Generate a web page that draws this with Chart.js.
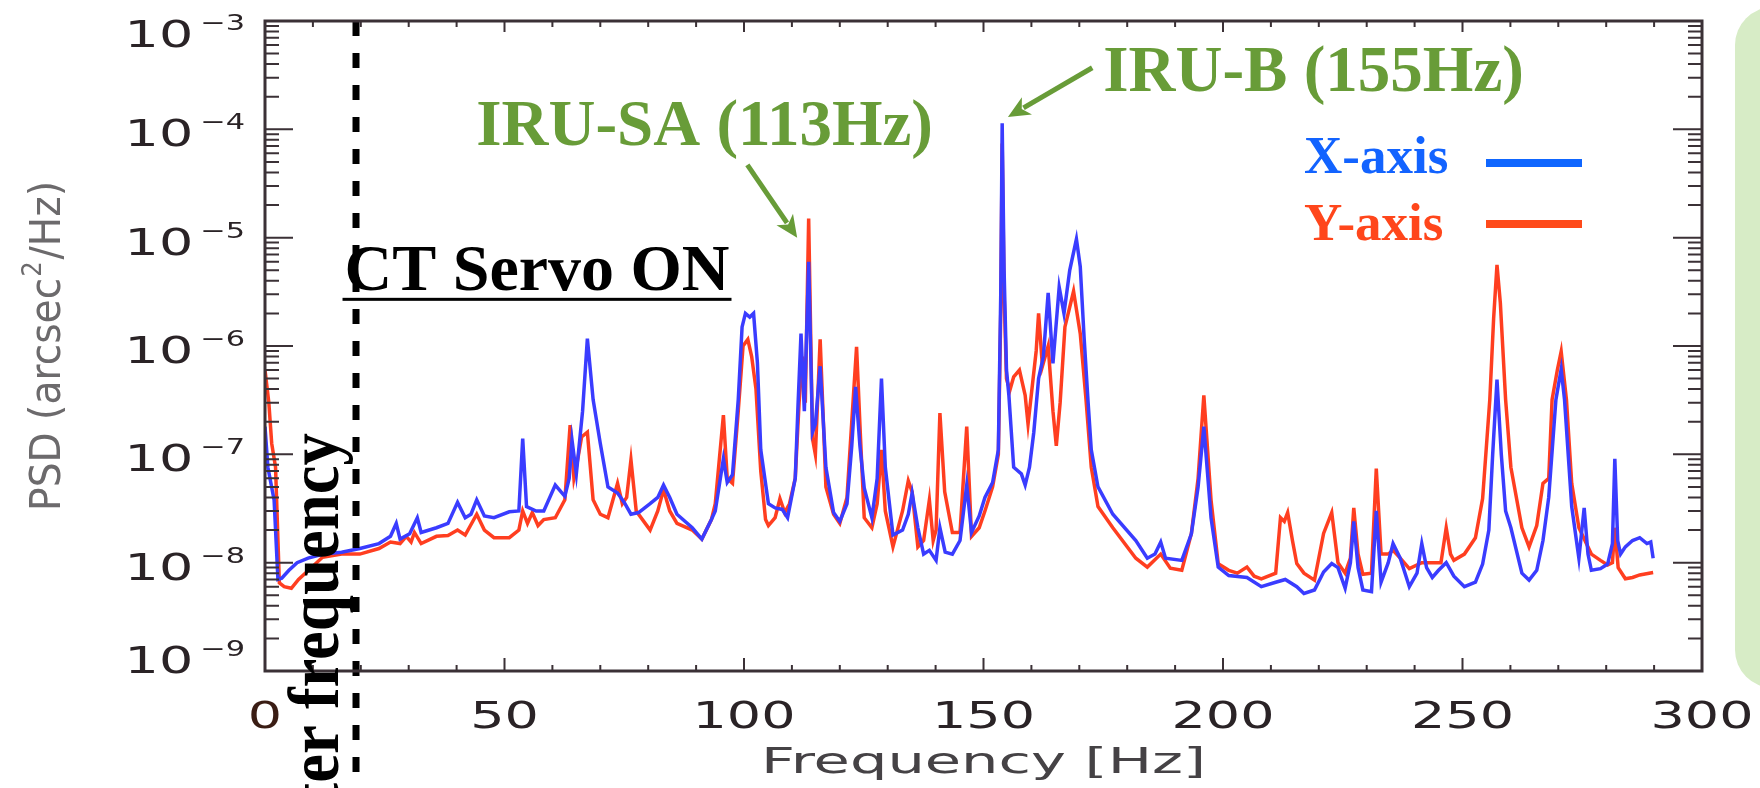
<!DOCTYPE html>
<html>
<head>
<meta charset="utf-8">
<script src="https://cdn.jsdelivr.net/npm/chart.js@4.4.1/dist/chart.umd.min.js"></script>
<style>
  html, body { margin: 0; padding: 0; background: #fff; }
  #wrap { width: 1760px; height: 788px; position: relative; overflow: hidden; }
</style>
</head>
<body>
<div id="wrap"><canvas id="psd" width="1760" height="788"></canvas></div>
<script>
// ---- data (Hz, arcsec^2/Hz) ----
const xAxisHz = [
  0, 0.6, 1.9, 2.7, 3.5, 5.0, 6.7, 9.0, 12.2, 16.0,
  19.8, 23.8, 26.2, 27.4, 28.2, 30.2, 31.8, 32.6, 35.8, 38.2,
  40.2, 41.8, 43.0, 44.2, 45.8, 47.8, 51.0, 53.0, 53.8, 54.6,
  56.6, 58.2, 60.6, 62.6, 63.5, 64.1, 65.0, 66.3, 67.3, 68.5,
  70.0, 71.6, 73.6, 75.0, 76.4, 78.0, 80.4, 82.0, 83.2, 84.5,
  86.0, 89.2, 91.2, 93.2, 94.0, 95.7, 96.5, 97.6, 98.8, 99.6,
  100.3, 101.2, 102.0, 102.8, 103.5, 105.1, 106.5, 108.0, 109.1, 110.7,
  111.3, 111.9, 112.6, 113.5, 114.3, 114.9, 115.9, 117.1, 118.7, 120.0,
  121.5, 122.5, 123.3, 124.2, 125.1, 126.7, 127.8, 128.7, 129.5, 131.1,
  133.1, 134.3, 135.1, 136.3, 137.5, 138.7, 140.1, 140.9, 142.0, 143.5,
  145.1, 146.5, 147.5, 149.1, 150.3, 151.9, 153.1, 153.6, 153.9, 154.3,
  154.8, 155.3, 156.3, 157.9, 158.7, 159.6, 160.5, 161.5, 162.5, 163.5,
  164.5, 165.8, 166.8, 168.0, 169.4, 170.2, 171.0, 171.8, 172.5, 173.9,
  177.0, 181.8, 184.2, 185.8, 187.0, 188.0, 191.4, 193.4, 194.8, 196.0,
  197.5, 199.0, 201.2, 205.0, 208.0, 211.0, 213.0, 215.4, 216.9, 219.1,
  221.0, 222.7, 224.0, 225.5, 226.6, 227.3, 228.2, 229.2, 231.0, 232.0,
  233.0, 234.5, 235.5, 237.0, 238.9, 240.5, 241.5, 242.5, 243.7, 245.0,
  246.6, 248.2, 250.4, 252.7, 254.2, 255.5, 256.3, 257.2, 258.1, 259.0,
  260.1, 262.4, 263.9, 265.5, 266.8, 268.0, 269.5, 270.6, 271.3, 272.8,
  274.3, 275.4, 276.2, 276.9, 278.8, 280.3, 281.3, 281.8, 282.4, 283.0,
  284.0, 285.5, 287.0, 288.5, 289.3, 289.8
];
const xAxisPsd = [
  1.8e-7, 7.6e-8, 3.8e-8, 7.0e-9, 7.2e-9, 8.5e-9, 1.0e-8, 1.1e-8, 1.2e-8, 1.25e-8,
  1.35e-8, 1.5e-8, 1.75e-8, 2.3e-8, 1.65e-8, 1.85e-8, 2.6e-8, 1.9e-8, 2.1e-8, 2.3e-8,
  3.6e-8, 2.6e-8, 2.8e-8, 3.8e-8, 2.7e-8, 2.6e-8, 2.95e-8, 3.0e-8, 1.4e-7, 3.3e-8,
  3.0e-8, 3.0e-8, 5.2e-8, 4.1e-8, 6.0e-8, 1.35e-7, 6.6e-8, 2.5e-7, 1.17e-6, 3.2e-7,
  1.26e-7, 5.0e-8, 4.4e-8, 3.6e-8, 2.8e-8, 2.9e-8, 3.5e-8, 4.0e-8, 5.2e-8, 4.0e-8,
  2.8e-8, 2.1e-8, 1.65e-8, 2.5e-8, 3.0e-8, 9.1e-8, 5.5e-8, 6.5e-8, 3.2e-7, 1.5e-6,
  2.0e-6, 1.85e-6, 2.0e-6, 7.0e-7, 1.1e-7, 3.5e-8, 3.2e-8, 3.1e-8, 2.6e-8, 6.0e-8,
  3.0e-7, 1.3e-6, 2.5e-7, 6.0e-6, 1.6e-7, 1.9e-7, 6.5e-7, 7.6e-8, 2.9e-8, 2.4e-8,
  3.5e-8, 1.2e-7, 4.2e-7, 1.2e-7, 4.9e-8, 2.6e-8, 6.0e-8, 5.0e-7, 7.6e-8, 1.8e-8,
  2.0e-8, 2.8e-8, 4.4e-8, 2.1e-8, 1.2e-8, 1.3e-8, 1.05e-8, 2.1e-8, 1.25e-8, 1.2e-8,
  1.6e-8, 5.2e-8, 1.9e-8, 2.7e-8, 4.0e-8, 5.5e-8, 1.1e-7, 3.0e-6, 1.14e-4, 5.0e-6,
  6.0e-7, 3.5e-7, 7.6e-8, 6.6e-8, 5.2e-8, 7.6e-8, 1.6e-7, 5.0e-7, 8.0e-7, 3.1e-6,
  6.9e-7, 3.5e-6, 2.0e-6, 5.0e-6, 9.7e-6, 5.4e-6, 1.2e-6, 3.2e-7, 1.1e-7, 5.0e-8,
  2.8e-8, 1.6e-8, 1.1e-8, 1.2e-8, 1.55e-8, 1.1e-8, 1.05e-8, 1.85e-8, 5.0e-8, 1.8e-7,
  2.6e-8, 9.1e-9, 7.6e-9, 7.3e-9, 6.0e-9, 6.6e-9, 7.0e-9, 6.0e-9, 5.2e-9, 5.6e-9,
  8.2e-9, 9.8e-9, 9.0e-9, 5.8e-9, 1.0e-8, 2.4e-8, 9.0e-9, 5.6e-9, 5.4e-9, 3.0e-8,
  6.6e-9, 1.0e-8, 1.5e-8, 1.1e-8, 6.0e-9, 8.0e-9, 1.5e-8, 9.0e-9, 7.3e-9, 8.5e-9,
  1.0e-8, 7.5e-9, 6.0e-9, 6.6e-9, 9.7e-9, 2.0e-8, 1.0e-7, 4.9e-7, 1.0e-7, 3.0e-8,
  2.1e-8, 8.0e-9, 6.9e-9, 8.5e-9, 1.6e-8, 4.0e-8, 3.2e-7, 6.1e-7, 3.2e-7, 3.3e-8,
  1.1e-8, 3.2e-8, 1.2e-8, 8.5e-9, 8.8e-9, 9.7e-9, 1.5e-8, 9.1e-8, 1.6e-8, 1.2e-8,
  1.4e-8, 1.6e-8, 1.7e-8, 1.5e-8, 1.55e-8, 1.1e-8
];
const yAxisHz = [
  0, 0.8, 1.4, 2.2, 3.0, 4.0, 5.5, 7.0, 8.8, 12.0,
  16.0, 19.8, 23.8, 26.2, 28.2, 29.5, 30.5, 31.2, 32.6, 35.8,
  38.2, 40.2, 41.8, 44.2, 45.8, 47.8, 51.0, 53.0, 53.8, 54.8,
  55.8, 57.0, 58.2, 60.6, 62.6, 63.7, 64.5, 65.0, 66.1, 67.3,
  68.5, 70.0, 71.6, 73.6, 74.6, 75.5, 76.4, 77.5, 80.4, 82.0,
  83.2, 84.5, 86.0, 89.2, 91.2, 93.2, 94.0, 95.7, 96.5, 97.6,
  98.8, 99.8, 100.8, 101.6, 102.5, 103.5, 104.5, 105.1, 106.5, 107.5,
  108.5, 109.5, 110.7, 111.5, 112.2, 112.8, 113.5, 114.3, 114.9, 115.9,
  117.1, 118.7, 120.0, 121.5, 122.5, 123.5, 124.3, 125.1, 126.7, 127.8,
  128.7, 129.5, 131.1, 133.1, 134.3, 135.1, 136.3, 137.5, 138.7, 139.5,
  140.1, 140.9, 141.9, 143.5, 145.1, 146.5, 147.5, 149.1, 150.3, 151.9,
  153.1, 153.6, 153.9, 154.3, 154.8, 155.5, 156.3, 157.5, 158.7, 159.3,
  160.0, 161.0, 161.5, 162.3, 163.5, 164.5, 165.2, 166.0, 167.0, 168.8,
  170.2, 171.4, 172.5, 173.9, 177.0, 181.8, 184.2, 187.0, 189.0, 191.4,
  193.4, 194.8, 196.0, 197.5, 199.0, 201.2, 203.0, 205.0, 206.5, 208.0,
  211.0, 212.0, 212.8, 213.5, 214.5, 215.4, 216.9, 219.1, 221.0, 222.7,
  224.0, 225.5, 226.6, 227.3, 228.2, 229.2, 231.0, 232.0, 233.0, 234.5,
  235.5, 237.0, 238.9, 241.5, 243.7, 245.5, 246.6, 247.5, 248.2, 250.4,
  252.7, 254.2, 255.7, 256.5, 257.2, 257.9, 259.0, 260.1, 262.4, 263.9,
  265.5, 266.8, 268.0, 268.7, 269.8, 270.6, 271.7, 272.8, 274.3, 276.9,
  278.8, 280.3, 281.3, 281.8, 282.5, 284.0, 285.5, 287.0, 289.8
];
const yAxisPsd = [
  6.0e-7, 3.0e-7, 1.26e-7, 7.6e-8, 6.5e-9, 6.0e-9, 5.8e-9, 7.0e-9, 8.3e-9, 1.12e-8,
  1.2e-8, 1.2e-8, 1.35e-8, 1.55e-8, 1.5e-8, 1.75e-8, 1.55e-8, 1.9e-8, 1.5e-8, 1.75e-8,
  1.78e-8, 2.0e-8, 1.8e-8, 2.8e-8, 2.0e-8, 1.7e-8, 1.7e-8, 2.0e-8, 3.0e-8, 2.3e-8,
  2.9e-8, 2.2e-8, 2.5e-8, 2.6e-8, 3.8e-8, 1.86e-7, 6.0e-8, 7.6e-8, 1.45e-7, 1.6e-7,
  3.8e-8, 2.8e-8, 2.6e-8, 5.4e-8, 3.5e-8, 4.0e-8, 8.9e-8, 3.0e-8, 2.0e-8, 3.0e-8,
  4.7e-8, 3.0e-8, 2.3e-8, 2.0e-8, 1.65e-8, 2.5e-8, 3.5e-8, 2.3e-7, 6.0e-8, 5.4e-8,
  2.5e-7, 1.0e-6, 1.15e-6, 8.0e-7, 4.0e-7, 7.0e-8, 2.5e-8, 2.2e-8, 2.6e-8, 3.9e-8,
  2.9e-8, 3.5e-8, 6.0e-8, 3.0e-7, 8.0e-7, 3.0e-7, 1.5e-5, 1.4e-7, 1.0e-7, 1.15e-6,
  5.0e-8, 2.8e-8, 2.3e-8, 4.0e-8, 2.0e-7, 9.8e-7, 1.5e-7, 2.6e-8, 2.1e-8, 3.5e-8,
  1.1e-7, 3.0e-8, 1.4e-8, 3.0e-8, 5.7e-8, 4.5e-8, 1.4e-8, 1.6e-8, 3.8e-8, 1.6e-8,
  2.0e-8, 2.4e-7, 4.5e-8, 1.9e-8, 1.9e-8, 1.8e-7, 1.75e-8, 2.1e-8, 3.0e-8, 5.0e-8,
  1.0e-7, 2.0e-6, 7.4e-5, 3.0e-6, 5.0e-7, 3.9e-7, 5.2e-7, 6.0e-7, 3.5e-7, 1.9e-7,
  3.6e-7, 9.0e-7, 2.0e-6, 6.5e-7, 1.0e-6, 2.5e-7, 1.2e-7, 3.0e-7, 1.5e-6, 3.2e-6,
  1.3e-6, 3.2e-7, 7.6e-8, 3.3e-8, 2.1e-8, 1.1e-8, 9.1e-9, 1.2e-8, 8.9e-9, 8.5e-9,
  1.86e-8, 6.0e-8, 3.5e-7, 3.8e-8, 9.8e-9, 8.5e-9, 8.0e-9, 9.1e-9, 7.5e-9, 7.1e-9,
  8.0e-9, 2.6e-8, 2.4e-8, 2.9e-8, 1.6e-8, 9.8e-9, 8.0e-9, 6.9e-9, 1.86e-8, 2.9e-8,
  1.0e-8, 8.0e-9, 1.1e-8, 3.2e-8, 1.2e-8, 7.8e-9, 8.0e-9, 7.4e-8, 1.2e-8, 1.2e-8,
  1.3e-8, 1.1e-8, 8.8e-9, 1.0e-8, 1.0e-8, 1.0e-8, 2.1e-8, 1.2e-8, 1.05e-8, 1.2e-8,
  1.7e-8, 3.9e-8, 3.2e-7, 1.8e-6, 5.6e-6, 2.5e-6, 3.2e-7, 7.6e-8, 2.1e-8, 1.4e-8,
  2.2e-8, 5.4e-8, 6.0e-8, 3.2e-7, 6.0e-7, 8.9e-7, 3.2e-7, 5.4e-8, 2.1e-8, 1.2e-8,
  1.05e-8, 9.5e-9, 1.0e-8, 2.1e-8, 9.0e-9, 7.1e-9, 7.3e-9, 7.7e-9, 8.1e-9
];

const xTicks = [0, 50, 100, 150, 200, 250, 300];
const yDecades = [-9, -8, -7, -6, -5, -4, -3];
const filterHz = 19;

// annotations, placed in data units
const notes = {
  servo: { hz: 16.6, psd: 3.3e-6, text: 'CT Servo ON' },
  filter: { hz: 15.3, psd: 1.57e-7, text: 'Filter frequency' },
  sa: { hz: 44.1, psd: 7.2e-5, text: 'IRU-SA (113Hz)', from: [100.7, 4.7e-5], to: [111.1, 1.0e-5] },
  b: { hz: 175.0, psd: 2.26e-4, text: 'IRU-B (155Hz)', from: [172.7, 3.7e-4], to: [155.1, 1.3e-4] }
};

const toPoints = (hz, v) => hz.map((f, i) => ({ x: f, y: v[i] }));

const AXIS = '#3b3136';
const GREEN = '#689c38';
const SERIF = '"Liberation Serif", "DejaVu Serif", serif';
const SANS = '"DejaVu Sans", sans-serif';

function wideText(ctx, s, x, y, font, color, align, hs) {
  ctx.save();
  ctx.font = font;
  ctx.fillStyle = color;
  ctx.textAlign = 'left';
  const w = ctx.measureText(s).width * hs;
  const x0 = align === 'center' ? x - w / 2 : align === 'right' ? x - w : x;
  ctx.translate(x0, y);
  ctx.scale(hs, 1);
  ctx.fillText(s, 0, 0);
  ctx.restore();
  return w;
}

function arrow(ctx, x1, y1, x2, y2) {
  const a = Math.atan2(y2 - y1, x2 - x1);
  const len = 22, hw = 10;
  ctx.save();
  ctx.strokeStyle = GREEN;
  ctx.fillStyle = GREEN;
  ctx.lineWidth = 5;
  ctx.beginPath();
  ctx.moveTo(x1, y1);
  ctx.lineTo(x2 - Math.cos(a) * (len - 4), y2 - Math.sin(a) * (len - 4));
  ctx.stroke();
  ctx.beginPath();
  ctx.moveTo(x2, y2);
  ctx.lineTo(x2 - Math.cos(a) * len + Math.sin(a) * hw, y2 - Math.sin(a) * len - Math.cos(a) * hw);
  ctx.lineTo(x2 - Math.cos(a) * (len - 6), y2 - Math.sin(a) * (len - 6));
  ctx.lineTo(x2 - Math.cos(a) * len - Math.sin(a) * hw, y2 - Math.sin(a) * len + Math.cos(a) * hw);
  ctx.closePath();
  ctx.fill();
  ctx.restore();
}

const decor = {
  id: 'decor',
  beforeDraw(chart) {
    const ctx = chart.ctx;
    // light green panel at the right edge
    ctx.save();
    ctx.fillStyle = '#d7ecc6';
    ctx.beginPath();
    ctx.roundRect(1735, 7, 200, 681, 38);
    ctx.fill();
    ctx.restore();
  },
  afterDatasetsDraw(chart) {
    const ctx = chart.ctx;
    const xs = chart.scales.x, ys = chart.scales.y;
    const a = chart.chartArea;
    const px = f => xs.getPixelForValue(f);
    const py = v => ys.getPixelForValue(v);

    // filter frequency dashed line
    ctx.save();
    ctx.strokeStyle = '#000';
    ctx.lineWidth = 7;
    ctx.setLineDash([15, 17]);
    ctx.beginPath();
    ctx.moveTo(px(filterHz), a.top);
    ctx.lineTo(px(filterHz), chart.height);
    ctx.stroke();
    ctx.restore();

    // frame
    ctx.save();
    ctx.strokeStyle = AXIS;
    ctx.lineWidth = 3;
    ctx.strokeRect(a.left, a.top, a.right - a.left, a.bottom - a.top);

    // ticks (inward, on all four sides)
    ctx.lineWidth = 2;
    ctx.beginPath();
    for (let f = 0; f <= 300; f += 10) {
      const major = f % 50 === 0;
      const x = px(f);
      ctx.moveTo(x, a.bottom); ctx.lineTo(x, a.bottom - (major ? 13 : 6));
      ctx.moveTo(x, a.top); ctx.lineTo(x, a.top + (major ? 11 : 6));
    }
    yDecades.forEach(k => {
      const y = py(Math.pow(10, k));
      ctx.moveTo(a.left, y); ctx.lineTo(a.left + 28, y);
      ctx.moveTo(a.right, y); ctx.lineTo(a.right - 29, y);
      if (k < -3) {
        for (let m = 2; m <= 9; m++) {
          const ym = py(m * Math.pow(10, k));
          ctx.moveTo(a.left, ym); ctx.lineTo(a.left + 14, ym);
          ctx.moveTo(a.right, ym); ctx.lineTo(a.right - 14, ym);
        }
      }
    });
    ctx.stroke();
    ctx.restore();

    // x tick labels
    xTicks.forEach(f => {
      wideText(ctx, String(f), px(f), a.bottom + 57, '38px ' + SANS, f === 0 ? '#3a1d14' : '#2a2326', 'center', 1.42);
    });

    // y tick labels 10^k
    yDecades.forEach(k => {
      const yt = py(Math.pow(10, k));
      const base = Math.min(Math.max(yt + 17, a.top + 26), a.bottom + 2);
      const ew = wideText(ctx, '\u2212' + Math.abs(k), a.left - 20, base - 17, '22px ' + SANS, '#2a2326', 'right', 1.38);
      wideText(ctx, '10', a.left - 20 - ew - 7, base, '38px ' + SANS, '#2a2326', 'right', 1.42);
    });

    // axis titles
    ctx.save();
    ctx.font = '36px ' + SANS;
    const fw = ctx.measureText('Frequency [Hz]').width;
    ctx.restore();
    wideText(ctx, 'Frequency [Hz]', (a.left + a.right) / 2, 773, '36px ' + SANS, '#454245', 'center', 445 / fw);

    ctx.save();
    ctx.translate(60, (a.top + a.bottom) / 2);
    ctx.rotate(-Math.PI / 2);
    ctx.fillStyle = '#6c6a6c';
    ctx.font = '42px ' + SANS;
    const p1 = 'PSD (arcsec', p3 = '/Hz)';
    const w1 = ctx.measureText(p1).width, w3 = ctx.measureText(p3).width;
    ctx.font = '26px ' + SANS;
    const w2 = ctx.measureText('2').width + 3;
    const tot = w1 + w2 + w3;
    ctx.scale(330 / tot, 1);
    let cx = -tot / 2;
    ctx.font = '42px ' + SANS;
    ctx.fillText(p1, cx, 0); cx += w1;
    ctx.font = '26px ' + SANS;
    ctx.fillText('2', cx + 1, -19); cx += w2;
    ctx.font = '42px ' + SANS;
    ctx.fillText(p3, cx, 0);
    ctx.restore();

    // CT Servo ON, underlined
    const sx = px(notes.servo.hz), sy = py(notes.servo.psd);
    const sw = wideText(ctx, notes.servo.text, sx, sy, 'bold 66px ' + SERIF, '#000', 'left', 1.0);
    ctx.save();
    ctx.fillStyle = '#000';
    ctx.fillRect(sx - 2, sy + 8, sw + 4, 3);
    ctx.restore();

    // rotated filter label (runs off the bottom edge)
    ctx.save();
    ctx.translate(px(notes.filter.hz), py(notes.filter.psd));
    ctx.rotate(-Math.PI / 2);
    ctx.scale(0.9, 1);
    ctx.font = 'bold 72px ' + SERIF;
    ctx.fillStyle = '#000';
    ctx.textAlign = 'right';
    ctx.fillText(notes.filter.text, 0, 0);
    ctx.restore();

    // IRU labels and arrows
    [notes.sa, notes.b].forEach(n => {
      wideText(ctx, n.text, px(n.hz), py(n.psd), 'bold 65px ' + SERIF, GREEN, 'left', 1.0);
      arrow(ctx, px(n.from[0]), py(n.from[1]), px(n.to[0]), py(n.to[1]));
    });

    // legend
    const lx = a.right - 398;
    wideText(ctx, 'X-axis', lx, 173, 'bold 53px ' + SERIF, '#1263ff', 'left', 1.0);
    wideText(ctx, 'Y-axis', lx, 240, 'bold 53px ' + SERIF, '#ff461b', 'left', 1.0);
    ctx.save();
    ctx.fillStyle = '#0f66ff';
    ctx.fillRect(a.right - 216, 159, 96, 8);
    ctx.fillStyle = '#ff4a1a';
    ctx.fillRect(a.right - 216, 220, 96, 8);
    ctx.restore();
  }
};

new Chart(document.getElementById('psd'), {
  type: 'line',
  data: {
    datasets: [
      { label: 'X-axis', data: toPoints(xAxisHz, xAxisPsd), borderColor: '#3a3cff', borderWidth: 3.5, pointRadius: 0, tension: 0, fill: false },
      { label: 'Y-axis', data: toPoints(yAxisHz, yAxisPsd), borderColor: '#ff3e20', borderWidth: 3.5, pointRadius: 0, tension: 0, fill: false }
    ]
  },
  options: {
    responsive: false,
    animation: false,
    devicePixelRatio: 1,
    layout: { padding: { top: 21, right: 58, left: 0, bottom: 0 } },
    plugins: { legend: { display: false }, tooltip: { enabled: false } },
    scales: {
      x: {
        type: 'linear', min: 0, max: 300,
        grid: { display: false }, border: { display: false }, ticks: { display: false },
        afterFit(s) { s.height = 117; }
      },
      y: {
        type: 'logarithmic', min: 1e-9, max: 1e-3,
        grid: { display: false }, border: { display: false }, ticks: { display: false },
        afterFit(s) { s.width = 265; }
      }
    }
  },
  plugins: [decor]
});
</script>
</body>
</html>
